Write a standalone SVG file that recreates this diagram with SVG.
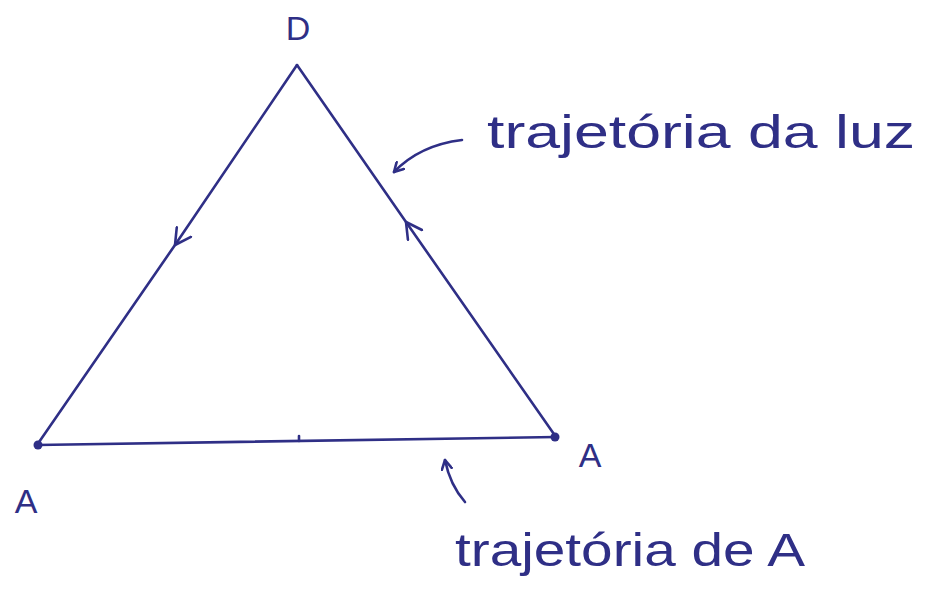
<svg xmlns="http://www.w3.org/2000/svg" width="927" height="595" viewBox="0 0 927 595">
<style>
.ln{fill:none;stroke:#2f2f86;stroke-width:2.6;stroke-linecap:round;stroke-linejoin:round}
.lbl{font-family:"Liberation Sans",Arial,sans-serif;fill:#2f2f86}
.big{font-size:46px}
.pt{font-size:34px}
</style>
<defs>
<marker id="chev" viewBox="0 0 12 12" refX="10" refY="6" markerWidth="12" markerHeight="12" markerUnits="userSpaceOnUse" orient="auto">
<path d="M1,1 L10,6 L1,11" fill="none" stroke="#2f2f86" stroke-width="2.6" stroke-linecap="round" stroke-linejoin="round"/>
</marker>
<marker id="chevS" viewBox="0 0 14 14" refX="12" refY="7" markerWidth="20" markerHeight="20" markerUnits="userSpaceOnUse" orient="auto">
<path d="M1,1 L12,7 L1,13" fill="none" stroke="#2f2f86" stroke-width="1.8" stroke-linecap="round" stroke-linejoin="round"/>
</marker>
</defs>
<rect width="927" height="595" fill="#ffffff"/>
<g id="connectors">
<path id="edge-D-A1" class="ln" d="M297,65 L175,245 L37,445" marker-mid="url(#chevS)"/>
<path id="edge-A2-D" class="ln" d="M556,437 L406,222 L297,65" marker-mid="url(#chevS)"/>
<path id="edge-A1-A2" class="ln" d="M37,445 L556,437"/>
<path id="tick" class="ln" d="M299,441 L299,436"/>
<path id="ptr-luz" class="ln" d="M462,140 Q420,145 394,172" marker-end="url(#chev)"/>
<path id="ptr-A" class="ln" d="M465,502 Q450,485 445,460" marker-end="url(#chev)"/>
</g>
<g id="node-D"><text class="lbl pt" x="298" y="40" text-anchor="middle">D</text></g>
<g id="node-A1"><circle cx="38" cy="445" r="4.5" fill="#2f2f86"/><text class="lbl pt" x="26" y="513" text-anchor="middle">A</text></g>
<g id="node-A2"><circle cx="555" cy="437" r="4.5" fill="#2f2f86"/><text class="lbl pt" x="590" y="467" text-anchor="middle">A</text></g>
<g id="label-luz"><text class="lbl big" x="487" y="148" textLength="428" lengthAdjust="spacingAndGlyphs">trajetória da luz</text></g>
<g id="label-A"><text class="lbl big" x="455" y="566" textLength="350" lengthAdjust="spacingAndGlyphs">trajetória de A</text></g>
</svg>
